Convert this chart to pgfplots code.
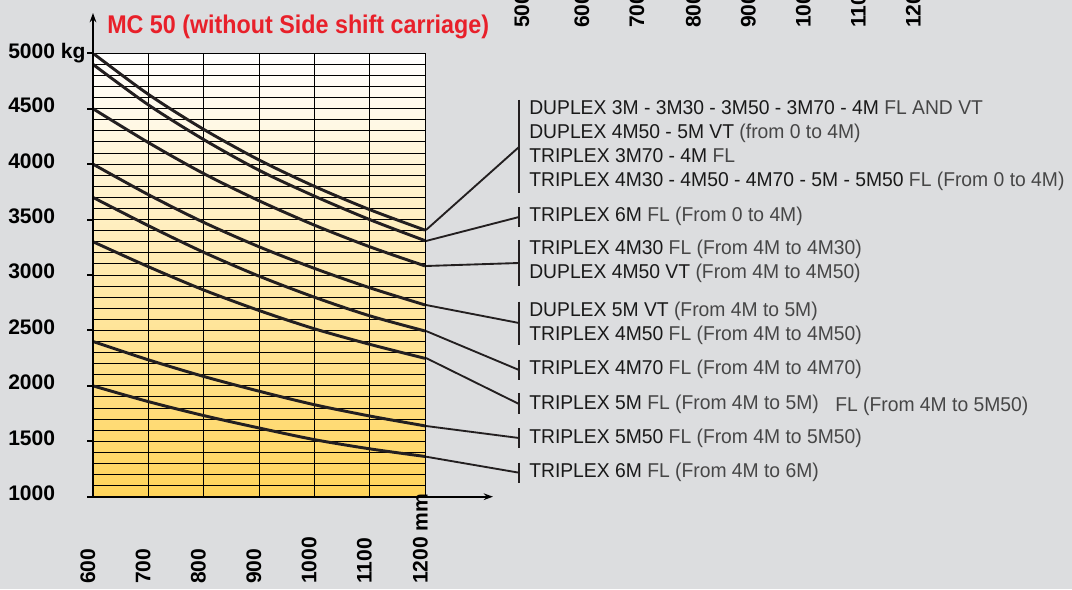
\documentclass[border=0pt]{standalone}
\usepackage{pgfplots}
\pgfplotsset{compat=1.18}
\usetikzlibrary{arrows.meta}
\usepackage{fontspec}
\setmainfont{Liberation Sans}
\newfontfamily\labelfont[FakeStretch=0.965]{Liberation Sans}
\newfontfamily\titlefont[FakeStretch=0.91]{Liberation Sans}
\newfontfamily\numfont{Liberation Sans}
\definecolor{bg}{RGB}{220,221,223}
\definecolor{curve}{RGB}{35,31,32}
\definecolor{titlered}{RGB}{232,32,42}
\definecolor{txt}{RGB}{25,25,25}
\definecolor{light}{RGB}{70,70,70}
\definecolor{gmid}{RGB}{255,241,204}
\definecolor{gbot}{RGB}{255,212,90}
\newcommand{\lt}[1]{\textcolor{light}{#1}}
\tikzset{crv/.style={line width=2.2bp, color=curve, solid, smooth, mark=none}}
\begin{document}
\begin{tikzpicture}[x=0.75bp,y=0.75bp]
\path[clip, use as bounding box] (0,0) rectangle (1072,589);
\fill[bg] (0,0) rectangle (1072,589);
\begin{axis}[
  at={(69.75bp,69.225bp)}, anchor=south west,
  scale only axis, width=249bp, height=332.55bp,
  xmin=600, xmax=1200, ymin=1000, ymax=5000,
  xtick={600,700,...,1200}, ytick={1000,1100,...,5000},
  xticklabels={}, yticklabels={}, major tick length=0pt,
  grid=major, grid style={line width=0.75bp, black},
  axis line style={line width=0.75bp, black},
  axis background/.style={top color=white, middle color=gmid, bottom color=gbot},
]
\addplot[crv] coordinates {(600,5000)(700,4630)(800,4314)(900,4038)(1000,3800)(1100,3590)(1200,3405)};
\addplot[crv] coordinates {(600,4900)(700,4535)(800,4222)(900,3945)(1000,3712)(1100,3500)(1200,3310)};
\addplot[crv] coordinates {(600,4500)(700,4195)(800,3915)(900,3670)(1000,3450)(1100,3255)(1200,3082)};
\addplot[crv] coordinates {(600,4000)(700,3725)(800,3475)(900,3255)(1000,3060)(1100,2885)(1200,2730)};
\addplot[crv] coordinates {(600,3700)(700,3445)(800,3205)(900,2990)(1000,2800)(1100,2632)(1200,2495)};
\addplot[crv] coordinates {(600,3300)(700,3075)(800,2865)(900,2680)(1000,2515)(1100,2375)(1200,2248)};
\addplot[crv] coordinates {(600,2400)(700,2235)(800,2085)(900,1952)(1000,1830)(1100,1728)(1200,1639)};
\addplot[crv] coordinates {(600,2000)(700,1858)(800,1732)(900,1620)(1000,1515)(1100,1432)(1200,1363)};
\end{axis}
\begin{scope}[yshift=441.75bp, yscale=-1]
% axes with arrows
\draw[line width=1.6bp, -{Stealth[length=7pt,width=5pt]}] (93,496.7) -- (93,13);
\draw[line width=1.6bp, -{Stealth[length=7pt,width=5pt]}] (93,496.7) -- (493,496.7);
\foreach \y in {53.3,108.7,164.1,219.6,275.0,330.4,385.8,441.3,496.7}
  \draw[line width=1.6bp] (87,\y) -- (93,\y);
% y labels
\begin{scope}[font=\numfont\bfseries\fontsize{15.8bp}{18bp}\selectfont]
\node[anchor=base west, inner sep=0] at (8,58.3) {5000 kg};
\node[anchor=base west, inner sep=0] at (8,112.7) {4500};
\node[anchor=base west, inner sep=0] at (8,168.1) {4000};
\node[anchor=base west, inner sep=0] at (8,223.6) {3500};
\node[anchor=base west, inner sep=0] at (8,279.0) {3000};
\node[anchor=base west, inner sep=0] at (8,334.4) {2500};
\node[anchor=base west, inner sep=0] at (8,389.8) {2000};
\node[anchor=base west, inner sep=0] at (8,445.3) {1500};
\node[anchor=base west, inner sep=0] at (8,500.7) {1000};
% x labels rotated
\foreach \x/\t in {93/600,148.3/700,203.7/800,259/900,314.3/1000,369.7/1100}
  \node[rotate=90, anchor=base west, inner sep=0] at (\x+2,584) {\t};
\node[rotate=90, anchor=base west, inner sep=0] at (427.5,584) {1200 mm};
% top cut-off labels
\foreach \x/\t in {529/500,589/600,644/700,700.5/800,755.5/900,810.5/1000,865.5/1100,920.5/1200}
  \node[rotate=90, anchor=base west, inner sep=0] at (\x,28) {\t};
\end{scope}
% title
\node[anchor=base west, inner sep=0, text=titlered, font=\titlefont\bfseries\fontsize{19.2bp}{22bp}\selectfont] at (107,33.5) {MC 50 (without Side shift carriage)};
% leader lines
\begin{scope}[line width=1.4bp, curve]
\draw (426,230) -- (519,147);
\draw (426,241) -- (519,217);
\draw (426,266) -- (519,263);
\draw (426,305) -- (519,323);
\draw (426,331) -- (519,370);
\draw (426,358) -- (519,404);
\draw (426,426) -- (519,438);
\draw (426,456.7) -- (519,472.7);
\draw (519,100) -- (519,192.7);
\draw (519,207) -- (519,227);
\draw (519,240) -- (519,286);
\draw (519,301.7) -- (519,345);
\draw (519,360) -- (519,380);
\draw (519,393) -- (519,414);
\draw (519,428) -- (519,448);
\draw (519,462.7) -- (519,482.7);
\end{scope}
% labels
\begin{scope}[font=\labelfont\fontsize{15bp}{18bp}\selectfont, text=txt]
\node[anchor=base west, inner sep=0] at (529,114.3) {DUPLEX 3M - 3M30 - 3M50 - 3M70 - 4M \lt{FL AND VT}};
\node[anchor=base west, inner sep=0] at (529,138.7) {DUPLEX 4M50 - 5M VT \lt{(from 0 to 4M)}};
\node[anchor=base west, inner sep=0] at (529,162.7) {TRIPLEX 3M70 - 4M \lt{FL}};
\node[anchor=base west, inner sep=0] at (529,186.7) {TRIPLEX 4M30 - 4M50 - 4M70 - 5M - 5M50 \lt{FL (From 0 to 4M)}};
\node[anchor=base west, inner sep=0] at (529,221.5) {TRIPLEX 6M \lt{FL (From 0 to 4M)}};
\node[anchor=base west, inner sep=0] at (529,254.5) {TRIPLEX 4M30 \lt{FL (From 4M to 4M30)}};
\node[anchor=base west, inner sep=0] at (529,279) {DUPLEX 4M50 VT \lt{(From 4M to 4M50)}};
\node[anchor=base west, inner sep=0] at (529,316.5) {DUPLEX 5M VT \lt{(From 4M to 5M)}};
\node[anchor=base west, inner sep=0] at (529,340.5) {TRIPLEX 4M50 \lt{FL (From 4M to 4M50)}};
\node[anchor=base west, inner sep=0] at (529,374.5) {TRIPLEX 4M70 \lt{FL (From 4M to 4M70)}};
\node[anchor=base west, inner sep=0] at (529,409.5) {TRIPLEX 5M \lt{FL (From 4M to 5M)}};
\node[anchor=base west, inner sep=0] at (835,411.5) {\lt{FL (From 4M to 5M50)}};
\node[anchor=base west, inner sep=0] at (529,443.5) {TRIPLEX 5M50 \lt{FL (From 4M to 5M50)}};
\node[anchor=base west, inner sep=0] at (529,477.5) {TRIPLEX 6M \lt{FL (From 4M to 6M)}};
\end{scope}
\end{scope}
\end{tikzpicture}
\end{document}
